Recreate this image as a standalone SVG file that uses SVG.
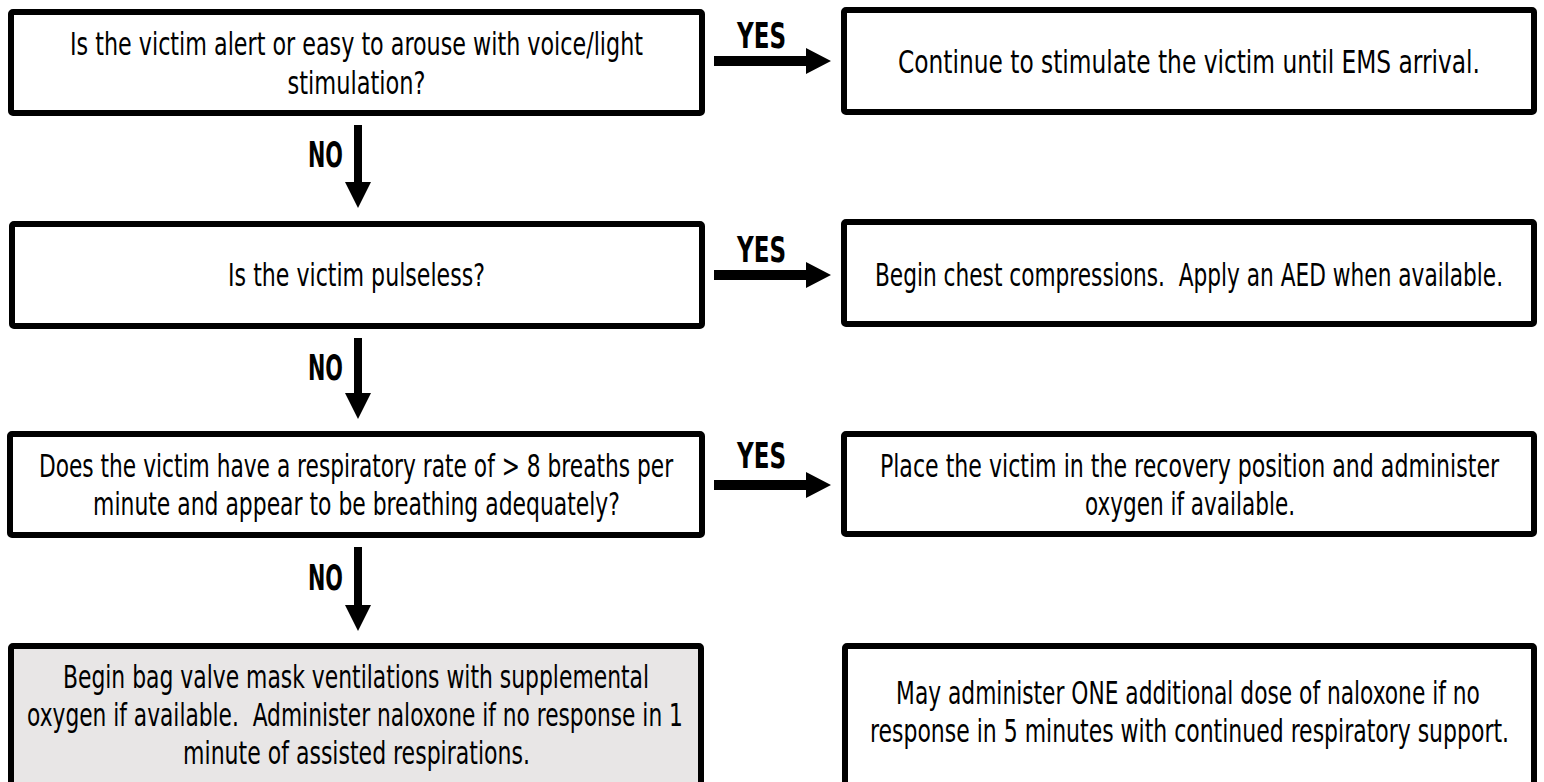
<svg xmlns="http://www.w3.org/2000/svg" width="1544" height="782" viewBox="0 0 1544 782">
  <style>
    .box { fill: #ffffff; stroke: #000000; stroke-width: 6; }
    .shaded { fill: #e8e6e6; }
    .txt { font-family: "Liberation Sans Narrow", "DejaVu Sans Condensed", "DejaVu Sans", sans-serif; font-size: 32px; fill: #000000; text-anchor: middle; }
    .lbl { font-family: "Liberation Sans Narrow", "DejaVu Sans Condensed", "DejaVu Sans", sans-serif; font-weight: bold; font-size: 35px; fill: #000000; text-anchor: middle; }
    .shaft { fill: #000000; }
  </style>
  <rect width="1544" height="782" fill="#ffffff"/>

  <!-- Connectors: YES branches to the right, NO branches downward.
       Text is drawn condensed: scaled to 0.6 horizontally, lengths given in local units. -->
  <g id="connectors">
    <g id="yes1">
      <path class="shaft" d="M714,56 H806 V48 L831,61 L806,74 V66 H714 Z"/>
      <text class="lbl" transform="translate(761.5 48) scale(0.6 1)" textLength="81.7" lengthAdjust="spacingAndGlyphs">YES</text>
    </g>
    <g id="yes2">
      <path class="shaft" d="M714,270 H806 V262 L831,275 L806,288 V280 H714 Z"/>
      <text class="lbl" transform="translate(761.5 262) scale(0.6 1)" textLength="81.7" lengthAdjust="spacingAndGlyphs">YES</text>
    </g>
    <g id="yes3">
      <path class="shaft" d="M714,480 H806 V472 L831,485 L806,498 V490 H714 Z"/>
      <text class="lbl" transform="translate(761.5 468) scale(0.6 1)" textLength="81.7" lengthAdjust="spacingAndGlyphs">YES</text>
    </g>
    <g id="no1">
      <path class="shaft" d="M354,125 H362 V182 H371 L358,208 L345,182 H354 Z"/>
      <text class="lbl" transform="translate(325.5 167) scale(0.6 1)" textLength="58.3" lengthAdjust="spacingAndGlyphs">NO</text>
    </g>
    <g id="no2">
      <path class="shaft" d="M354,338 H362 V393 H371 L358,419 L345,393 H354 Z"/>
      <text class="lbl" transform="translate(325.5 380) scale(0.6 1)" textLength="58.3" lengthAdjust="spacingAndGlyphs">NO</text>
    </g>
    <g id="no3">
      <path class="shaft" d="M354,547 H362 V605 H371 L358,631 L345,605 H354 Z"/>
      <text class="lbl" transform="translate(325.5 590) scale(0.6 1)" textLength="58.3" lengthAdjust="spacingAndGlyphs">NO</text>
    </g>
  </g>

  <!-- Decision: alert or arousable -->
  <g id="q-alert">
    <rect class="box" x="11" y="12" width="691" height="101" rx="2"/>
    <text class="txt" transform="translate(356.5 55) scale(0.6 1)" textLength="955" lengthAdjust="spacingAndGlyphs">Is the victim alert or easy to arouse with voice/light</text>
    <text class="txt" transform="translate(356.5 94) scale(0.6 1)" textLength="230" lengthAdjust="spacingAndGlyphs">stimulation?</text>
  </g>

  <g id="a-stimulate">
    <rect class="box" x="844" y="10" width="690" height="102" rx="2"/>
    <text class="txt" transform="translate(1189 73) scale(0.6 1)" textLength="970" lengthAdjust="spacingAndGlyphs">Continue to stimulate the victim until EMS arrival.</text>
  </g>

  <!-- Decision: pulseless -->
  <g id="q-pulse">
    <rect class="box" x="12" y="224" width="690" height="102" rx="2"/>
    <text class="txt" transform="translate(356.5 286) scale(0.6 1)" textLength="428" lengthAdjust="spacingAndGlyphs">Is the victim pulseless?</text>
  </g>

  <g id="a-compressions">
    <rect class="box" x="844" y="222" width="690" height="102" rx="2"/>
    <text class="txt" transform="translate(1189 286) scale(0.6 1)" textLength="1047" lengthAdjust="spacingAndGlyphs" xml:space="preserve">Begin chest compressions.  Apply an AED when available.</text>
  </g>

  <!-- Decision: breathing adequately -->
  <g id="q-breathing">
    <rect class="box" x="10" y="434" width="692" height="101" rx="2"/>
    <text class="txt" transform="translate(356 477) scale(0.6 1)" textLength="1057" lengthAdjust="spacingAndGlyphs">Does the victim have a respiratory rate of &gt; 8 breaths per</text>
    <text class="txt" transform="translate(356.5 515) scale(0.6 1)" textLength="878" lengthAdjust="spacingAndGlyphs">minute and appear to be breathing adequately?</text>
  </g>

  <g id="a-recovery">
    <rect class="box" x="844" y="434" width="690" height="100" rx="2"/>
    <text class="txt" transform="translate(1189.5 477) scale(0.6 1)" textLength="1032" lengthAdjust="spacingAndGlyphs">Place the victim in the recovery position and administer</text>
    <text class="txt" transform="translate(1190 515) scale(0.6 1)" textLength="350" lengthAdjust="spacingAndGlyphs">oxygen if available.</text>
  </g>

  <!-- Action: ventilation and naloxone -->
  <g id="a-ventilate">
    <rect class="box shaded" x="11" y="646" width="690" height="150" rx="2"/>
    <text class="txt" transform="translate(356 688) scale(0.6 1)" textLength="977" lengthAdjust="spacingAndGlyphs">Begin bag valve mask ventilations with supplemental</text>
    <text class="txt" transform="translate(355 726) scale(0.6 1)" textLength="1093" lengthAdjust="spacingAndGlyphs" xml:space="preserve">oxygen if available.  Administer naloxone if no response in 1</text>
    <text class="txt" transform="translate(356.5 764) scale(0.6 1)" textLength="578" lengthAdjust="spacingAndGlyphs">minute of assisted respirations.</text>
  </g>

  <g id="a-second-dose">
    <rect class="box" x="845" y="646" width="689" height="150" rx="2"/>
    <text class="txt" transform="translate(1188 704) scale(0.6 1)" textLength="973" lengthAdjust="spacingAndGlyphs">May administer ONE additional dose of naloxone if no</text>
    <text class="txt" transform="translate(1189.5 742) scale(0.6 1)" textLength="1065" lengthAdjust="spacingAndGlyphs">response in 5 minutes with continued respiratory support.</text>
  </g>
</svg>
